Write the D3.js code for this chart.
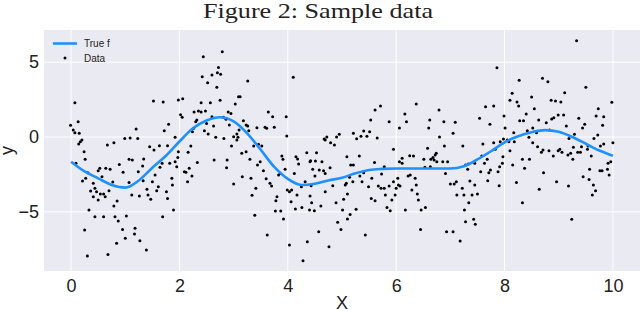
<!DOCTYPE html>
<html>
<head>
<meta charset="utf-8">
<script src="https://cdn.jsdelivr.net/npm/d3@7"></script>
<style>
  body { margin: 0; background: #fff; }
  text { fill: #222; }
</style>
</head>
<body>
<div id="chart"></div>
<script>
const titleText = "Figure 2: Sample data";
const xLabel = "X";
const yLabel = "y";
const legendLabels = ["True f", "Data"];
const xTicks = [0, 2, 4, 6, 8, 10];
const yTicks = [-5, 0, 5];

// true function
const fX = [0, 0.25, 0.5, 0.75, 1, 1.25, 1.5, 1.75, 2, 2.25, 2.5, 2.75, 3, 3.25, 3.5, 3.75, 4, 4.25, 4.5,
  4.75, 5, 5.25, 5.5, 5.75, 6, 6.25, 6.5, 6.75, 7, 7.25, 7.5, 7.75, 8, 8.25, 8.5, 8.75, 9, 9.25, 9.5, 9.75, 10];
const fY = [-1.65, -2.3, -2.76, -3.2, -3.38, -2.9, -2.05, -1.25, -0.3, 0.58, 1.1, 1.32, 1.05, 0.25, -0.85, -2.0, -2.8, -3.2, -3.12,
  -2.9, -2.72, -2.42, -2.2, -2.13, -2.1, -2.1, -2.1, -2.1, -2.1, -1.95, -1.5, -0.95, -0.35, 0.05, 0.32, 0.46, 0.35, 0.0, -0.45, -0.9, -1.25];

// noisy samples [x, y]
const samples = [
  [0.07,2.29],[-0.01,0.78],[0.04,0.47],[0.13,1.02],[0.07,0.29],[0.15,0.25],[1.2,0.53],[0.99,-0.1],[1.09,-0.07],[1.23,-0.1],
  [1.52,2.4],[1.7,2.34],[1.98,2.47],[1.72,0.42],[1.8,0.85],[1.92,-0.02],
  [0.17,-0.31],[0.14,-0.47],[0.2,-0.2],[0.24,-0.98],[0.26,-1.49],[0.09,-1.76],[0.31,-2.38],[0.21,-2.94],[0.27,-2.76],[0.41,-3.09],
  [0.36,-3.61],[0.44,-3.43],[0.41,-3.99],[0.47,-3.65],[0.5,-4.21],[0.54,-3.81],[0.6,-3.81],[0.63,-3.99],[0.57,-2.65],[0.5,-2.25],
  [0.53,-2.09],[0.64,-2.09],[0.72,-2.16],[0.67,-0.53],[0.79,-0.38],[0.89,-1.83],[0.96,-2.36],[0.77,-3.0],[0.7,-3.59],[0.85,-4.28],
  [0.79,-4.61],[0.33,-4.88],[0.44,-5.32],[0.6,-5.32],[0.81,-5.32],[0.87,-5.61],[1.02,-5.28],[0.95,-6.17],[0.25,-6.21],[1.0,-6.77],
  [0.84,-7.1],[1.18,-6.1],[1.17,-6.48],[1.27,-6.93],[1.39,-7.55],[0.68,-7.84],[0.3,-7.95],[1.07,-3.03],[1.12,-3.87],[1.26,-3.94],
  [1.24,-2.32],[1.33,-2.92],[1.4,-3.49],[1.42,-3.87],[1.47,-4.16],[1.5,-2.98],[1.55,-2.54],[1.58,-3.59],[1.61,-3.32],[1.64,-2.02],
  [1.68,-1.76],[1.69,-5.32],[1.76,-3.65],[1.78,-4.1],[1.86,-2.76],[1.87,-3.21],[1.89,-4.88],[1.92,-1.65],[1.95,-1.98],[1.97,-1.36],
  [1.98,-0.98],[1.78,-0.58],[1.63,-0.58],[1.53,-0.87],[1.45,-0.65],[1.34,-1.47],[1.32,-1.94],[1.07,-1.49],[1.13,-1.54],[1.82,-1.76],
  [2.44,5.36],[2.79,5.7],[2.72,4.65],[2.6,4.14],[2.7,4.3],[2.76,4.19],[2.42,4.03],[2.52,3.63],[2.69,3.32],[3.26,3.74],
  [4.1,3.99],[2.06,2.56],[2.4,2.29],[2.57,2.29],[2.75,2.45],[3.09,2.69],[3.12,2.69],[3.03,2.2],[2.02,1.49],[2.05,1.32],
  [2.27,1.67],[2.35,1.74],[2.4,1.67],[2.48,1.74],[2.32,1.14],[2.3,1.02],[2.5,0.91],[2.6,1.36],[2.63,0.73],[2.81,1.32],
  [2.86,1.18],[2.9,1.67],[2.95,1.58],[2.92,0.8],[2.26,0.58],[2.24,0.35],[2.46,0.42],[2.53,0.2],[2.67,-0.02],[2.82,-0.09],
  [3.0,0.02],[3.06,0.2],[3.08,-0.02],[3.1,0.47],[3.18,1.09],[3.23,0.8],[3.26,0.73],[3.28,0.42],[3.43,0.62],[3.58,0.65],
  [3.61,0.58],[3.75,0.65],[3.64,1.67],[3.72,1.36],[3.97,1.36],[3.98,0.07],
  [2.16,-1.02],[2.21,-0.6],[2.33,-1.71],[2.09,-2.32],[2.12,-2.36],[2.18,-2.09],[2.15,-2.98],[2.23,-2.6],[2.64,-1.54],[2.88,-1.54],
  [2.87,-2.05],[3.0,-3.14],[2.96,-0.6],[3.06,-0.2],[3.15,-1.09],[3.23,-0.98],[3.16,-2.65],[3.32,-2.76],[3.3,-1.49],[3.37,-0.6],
  [3.44,-1.87],[3.46,-0.49],[3.52,-0.6],[3.49,-1.65],[3.41,-3.43],[3.34,-3.89],[3.39,-5.23],[3.55,-2.25],[3.6,-2.78],[3.67,-3.09],
  [3.7,-3.27],[3.8,-3.99],[3.78,-4.25],[3.77,-4.94],[3.87,-4.94],[3.92,-5.48],[3.62,-6.55],[3.83,-2.54],[3.86,-2.43],[3.89,-1.27],
  [3.91,-1.49],[3.95,-2.16],[3.99,-3.54],[4.03,-3.65],[4.07,-3.54],[4.06,-4.32],[4.03,-7.21],[4.14,-4.81],[4.17,-3.87],[4.25,-3.32],
  [4.26,-4.7],[4.28,-8.26],[4.35,-1.05],[4.36,-6.99],[4.32,-2.98],[4.4,-4.88],[4.41,-3.94],[4.44,-4.39],[4.46,-2.16],[4.49,-4.92],
  [4.53,-1.05],[4.57,-6.33],[4.58,-2.2],[4.51,-1.6],[4.42,-1.58],[4.2,-1.8],[4.15,-1.32],[4.18,-1.47],[4.12,-2.43],
  [6.37,2.2],[5.71,2.07],[5.61,1.8],[5.53,1.14],[5.87,1.02],[6.16,1.54],[6.19,1.02],[6.06,0.6],[6.62,1.14],[6.79,1.8],
  [6.88,1.02],[7.09,0.98],[6.6,0.6],[7.05,0.25],[6.8,0.0],[5.4,0.4],[5.51,0.35],[5.21,0.25],[5.35,0.05],[5.46,0.05],
  [5.65,-0.07],[4.95,0.18],[4.9,0.0],[4.72,0.0],[4.67,-0.13],[5.27,-0.11],
  [4.41,-1.65],[4.43,-3.25],[4.5,-2.6],[4.61,-4.61],[4.66,-2.25],[4.69,-2.43],[4.63,-1.65],[4.69,-3.65],[4.69,-0.2],[4.79,-0.38],
  [4.86,-0.53],[4.89,-4.39],[4.78,-2.05],[4.83,-3.25],[4.92,-5.7],[4.98,-6.17],[4.76,-7.33],[5.01,-4.88],[5.03,-4.16],[5.06,-3.21],
  [5.08,-3.09],[5.1,-3.81],[5.14,-2.69],[5.15,-5.18],[5.1,-5.48],[5.09,-1.32],[5.16,-1.87],[5.21,-1.87],[5.2,-2.98],[5.26,-4.83],
  [5.32,-1.27],[5.33,-2.6],[5.37,-2.98],[5.4,-2.38],[5.43,-6.55],[5.49,-3.32],[5.54,-4.1],[5.55,-2.76],[5.6,-1.71],[5.61,-4.25],
  [5.67,-3.27],[5.72,-3.43],[5.78,-3.43],[5.78,-1.98],[5.73,-2.47],[5.8,-3.87],[5.83,-4.7],[5.89,-4.92],[5.87,-3.27],[5.92,-4.21],
  [5.95,-0.82],[5.95,-2.98],[5.98,-3.87],[6.0,-3.43],[6.03,-2.76],[6.04,-3.21],[6.06,-1.65],[6.07,-3.27],[6.11,-1.42],[6.11,-1.76],
  [6.17,-4.88],[6.22,-2.6],[6.25,-1.25],[6.26,-2.54],[6.29,-3.54],[6.32,-1.27],[6.35,-2.76],[6.37,-3.21],[6.39,-3.81],[6.41,-4.21],
  [6.46,-4.88],[6.45,-6.17],[6.54,-4.7],[6.51,-1.49],[6.53,-2.02],[6.58,-0.75],[6.63,-1.98],[6.64,-1.49],[6.68,-1.36],[6.7,-1.54],
  [6.72,-1.2],[6.74,-1.09],[6.75,-1.65],[6.86,-1.65],[6.89,-0.6],[6.91,-2.43],[6.93,-6.33],[6.95,-1.65],[7.0,-3.14],[7.05,-6.33],
  [7.07,-3.14],[7.11,-2.98],[7.12,-3.87],[7.18,-6.95],[7.22,-3.43],[7.23,-0.6],[7.25,-3.87],[7.26,-4.88],[7.28,-5.66],[7.28,-1.87],
  [7.33,-1.8],[7.32,-2.16],
  [9.33,6.43],[7.86,4.63],[8.27,3.79],[8.7,3.92],[8.8,3.69],[9.5,3.32],[8.14,2.92],[9.11,2.96],[8.5,2.67],[8.1,2.45],
  [8.23,2.34],[8.26,2.07],[8.86,2.45],[8.94,2.4],[9.04,2.34],[9.98,2.32],[7.65,2.02],[7.8,2.07],[8.55,1.89],[9.73,1.89],
  [8.4,1.54],[8.99,1.47],[9.09,1.47],[9.69,1.4],[9.83,1.36],[7.54,1.25],[7.99,1.4],[8.91,1.29],[8.87,1.2],[9.37,1.25],
  [8.28,1.09],[8.35,1.09],[8.63,1.14],[8.77,0.96],[7.73,0.85],[9.48,0.85],[9.81,0.78],[9.14,0.73],[8.01,0.6],[8.52,0.6],
  [9.44,0.6],[8.83,0.47],[8.17,0.29],[8.42,0.42],[8.59,0.29],[9.29,0.18],[9.72,0.13],[8.45,-0.02],[7.98,-0.13],[9.19,-0.09],
  [9.65,-0.09],
  [7.6,-0.47],[7.8,-0.38],[7.92,-0.31],[7.83,-0.82],[8.05,-0.2],[8.08,-0.31],[8.1,-0.91],[8.18,-0.31],[8.52,-0.38],[8.61,-0.65],
  [8.68,-1.02],[8.71,-0.87],[8.82,-0.91],[8.9,-1.27],[8.99,-0.91],[9.02,-0.82],[9.06,-1.02],[9.17,-1.2],[9.22,-1.09],[9.27,-0.69],
  [9.26,-1.49],[9.35,-1.02],[9.4,-1.02],[9.42,-0.65],[9.53,-0.82],[9.54,-0.6],[9.6,-1.27],[9.77,-0.6],[9.83,-0.47],[9.91,-1.76],
  [9.93,-2.54],[9.9,-2.16],[9.96,-1.65],[10.0,-0.38],[9.76,-2.25],[9.8,-2.25],[9.57,-2.16],[9.45,-2.65],[9.56,-2.83],[9.64,-3.21],
  [9.68,-3.59],[9.62,-3.87],[9.18,-3.27],[8.96,-2.98],[8.72,-2.38],[8.64,-3.49],[8.37,-2.09],[8.22,-3.03],[8.15,-1.87],[8.33,-1.49],
  [8.46,-1.49],[7.97,-1.32],[7.96,-1.76],[7.91,-1.98],[7.88,-2.32],[7.9,-3.25],[8.33,-4.39],[7.74,-2.2],[7.71,-2.38],[7.69,-2.92],
  [7.68,-1.49],[7.63,-1.76],[7.56,-2.32],[7.58,-1.27],[7.45,-1.76],[7.45,-3.21],[7.5,-3.81],[7.4,-3.87],[7.36,-2.94],[7.34,-4.39],
  [7.43,-5.5],[7.46,-5.83],[9.24,-5.5]
];

const width = 640;
const height = 311;
const margin = { top: 30, right: 0, bottom: 40, left: 44 };

const xScale = d3.scaleLinear()
  .domain([-0.5, 10.5])
  .range([margin.left, width - margin.right]);

const yScale = d3.scaleLinear()
  .domain([-8.95, 7.15])
  .range([height - margin.bottom, margin.top]);

const svg = d3.select("#chart")
  .append("svg")
  .attr("width", width)
  .attr("height", height)
  .style("font-family", "'Liberation Sans', Arial, sans-serif");

svg.append("defs").append("clipPath")
  .attr("id", "plot-clip")
  .append("rect")
  .attr("x", margin.left)
  .attr("y", margin.top)
  .attr("width", width - margin.left - margin.right)
  .attr("height", height - margin.top - margin.bottom);

// background
svg.append("rect")
  .attr("x", margin.left)
  .attr("y", margin.top)
  .attr("width", width - margin.left - margin.right)
  .attr("height", height - margin.top - margin.bottom)
  .attr("fill", "#eaeaf2");

// grid
svg.append("g")
  .selectAll("line.vgrid")
  .data(xTicks)
  .join("line")
  .attr("x1", d => xScale(d)).attr("x2", d => xScale(d))
  .attr("y1", margin.top).attr("y2", height - margin.bottom)
  .attr("stroke", "#fff").attr("stroke-width", 1);

svg.append("g")
  .selectAll("line.hgrid")
  .data(yTicks)
  .join("line")
  .attr("x1", margin.left).attr("x2", width - margin.right)
  .attr("y1", d => yScale(d)).attr("y2", d => yScale(d))
  .attr("stroke", "#fff").attr("stroke-width", 1);

// axes (labels only)
const xAxis = svg.append("g")
  .attr("transform", `translate(0, ${height - margin.bottom})`)
  .call(d3.axisBottom(xScale).tickValues(xTicks).tickSize(0).tickPadding(8));
xAxis.select(".domain").remove();
xAxis.selectAll("text").style("font-size", "18px").attr("fill", "#222");

const yAxis = svg.append("g")
  .attr("transform", `translate(${margin.left}, 0)`)
  .call(d3.axisLeft(yScale).tickValues(yTicks).tickSize(0).tickPadding(5));
yAxis.select(".domain").remove();
yAxis.selectAll("text").style("font-size", "18px").attr("fill", "#222");

// axis labels
svg.append("text")
  .attr("x", (margin.left + width - margin.right) / 2)
  .attr("y", 308.5)
  .attr("text-anchor", "middle")
  .style("font-size", "18px")
  .text(xLabel);

svg.append("text")
  .attr("transform", `translate(13, ${(margin.top + height - margin.bottom) / 2}) rotate(-90)`)
  .attr("text-anchor", "middle")
  .style("font-size", "18px")
  .text(yLabel);

// title
svg.append("text")
  .attr("x", 318)
  .attr("y", 18)
  .attr("text-anchor", "middle")
  .attr("textLength", 230)
  .attr("lengthAdjust", "spacingAndGlyphs")
  .style("font-family", "'Liberation Serif', 'DejaVu Serif', serif")
  .style("font-size", "21px")
  .text(titleText);

const plot = svg.append("g").attr("clip-path", "url(#plot-clip)");

// data points
plot.selectAll("circle")
  .data(samples)
  .join("circle")
  .attr("cx", d => xScale(d[0]))
  .attr("cy", d => yScale(d[1]))
  .attr("r", 1.5)
  .attr("fill", "#000");

// true f
const line = d3.line()
  .x((d, i) => xScale(fX[i]))
  .y(d => yScale(d))
  .curve(d3.curveMonotoneX);

plot.append("path")
  .datum(fY)
  .attr("d", line)
  .attr("fill", "none")
  .attr("stroke", "#1e90ff")
  .attr("stroke-width", 2.6);

// legend
const legend = svg.append("g");
legend.append("line")
  .attr("x1", 53).attr("x2", 77)
  .attr("y1", 43.5).attr("y2", 43.5)
  .attr("stroke", "#1e90ff").attr("stroke-width", 2.6);
legend.append("circle")
  .attr("cx", 65).attr("cy", 58)
  .attr("r", 1.5).attr("fill", "#000");
legend.selectAll("text")
  .data(legendLabels)
  .join("text")
  .attr("x", 84)
  .attr("y", (d, i) => 47 + i * 15)
  .style("font-size", "10px")
  .text(d => d);
</script>
</body>
</html>
